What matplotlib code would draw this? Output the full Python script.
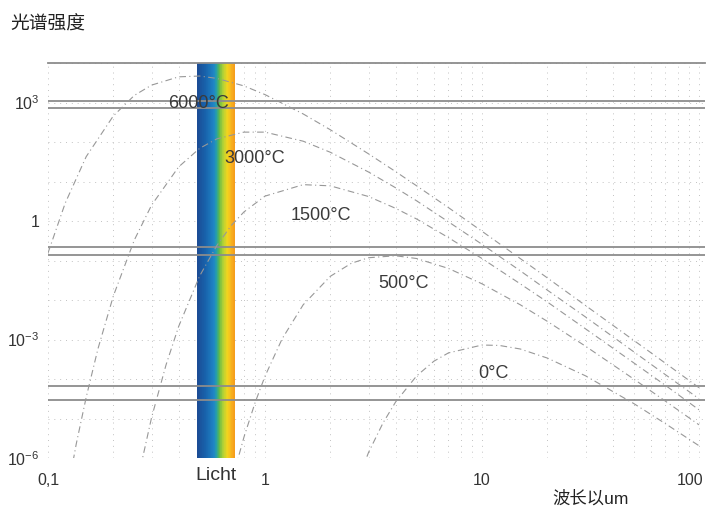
import numpy as np
import matplotlib
matplotlib.use('Agg')
import matplotlib.pyplot as plt
import matplotlib.transforms as mtransforms
from matplotlib.colors import LinearSegmentedColormap
from matplotlib.ticker import FixedLocator, NullFormatter, LogLocator

# ---------------- data ----------------
# wavelength in um, intensity as log10 values
w_6000 = [0.1, 0.12, 0.15, 0.2, 0.25, 0.3, 0.4, 0.5, 0.6, 0.8, 1, 1.5, 2, 3, 4, 5, 7, 10, 15, 20, 30, 50, 70, 100]
lg_6000 = [-0.81, 0.45, 1.63, 2.66, 3.18, 3.44, 3.65, 3.67, 3.61, 3.42, 3.20, 2.71, 2.31, 1.70, 1.25, 0.89, 0.34,
           -0.26, -0.95, -1.44, -2.14, -3.02, -3.60, -4.22]

w_3000 = [0.12, 0.135, 0.15, 0.17, 0.2, 0.25, 0.3, 0.4, 0.5, 0.6, 0.8, 1, 1.5, 2, 3, 4, 5, 7, 10, 15, 20, 30, 50, 70, 100]
lg_3000 = [-7.16, -5.64, -4.46, -3.23, -1.90, -0.48, 0.40, 1.37, 1.84, 2.08, 2.25, 2.25, 2.02, 1.74, 1.24, 0.84, 0.51,
           -0.02, -0.59, -1.26, -1.75, -2.43, -3.31, -3.89, -4.50]

w_1500 = [0.25, 0.3, 0.35, 0.4, 0.5, 0.6, 0.7, 0.8, 1, 1.5, 2, 3, 4, 5, 7, 10, 15, 20, 30, 50, 70, 100]
lg_1500 = [-6.94, -4.98, -3.64, -2.67, -1.39, -0.62, -0.11, 0.23, 0.63, 0.92, 0.89, 0.62, 0.32, 0.05, -0.42, -0.95,
           -1.59, -2.05, -2.73, -3.59, -4.16, -4.78]

w_500 = [0.7, 0.8, 0.9, 1, 1.2, 1.5, 2, 2.5, 3, 4, 5, 7, 10, 15, 20, 30, 50, 70, 100]
lg_500 = [-6.62, -5.47, -4.60, -3.93, -2.98, -2.12, -1.40, -1.07, -0.93, -0.88, -0.95, -1.20, -1.59, -2.12, -2.54,
          -3.17, -4.00, -4.56, -5.16]

w_0 = [2.5, 3, 3.5, 4, 5, 6, 7, 10, 12, 15, 20, 30, 50, 70, 100]
lg_0 = [-6.99, -5.86, -5.11, -4.58, -3.92, -3.55, -3.34, -3.14, -3.15, -3.24, -3.47, -3.92, -4.62, -5.13, -5.69]

curve_labels = ['6000°C', '3000°C', '1500°C', '500°C', '0°C']

# visible-light band (um)
band_lo, band_hi = 0.484, 0.73

# horizontal reference lines (log10)
ref_lines_lg = [3.05, 2.87, -0.663, -0.873, -4.165, -4.52]

x_ticks = [0.1, 1, 10, 100]
x_tick_labels = ['0,1', '1', '10', '100']
y_ticks = [1e-6, 1e-3, 1, 1e3]
y_tick_labels = [r'$\mathregular{10^{-6}}$', r'$\mathregular{10^{-3}}$', '1', r'$\mathregular{10^{3}}$']

title_text = '光谱强度'
xlabel_text = '波长以um'
band_text = 'Licht'

# ---------------- drawing ----------------
plt.rcParams['font.family'] = ['Liberation Sans', 'Noto Sans CJK SC', 'DejaVu Sans']
plt.rcParams['mathtext.fontset'] = 'custom'
plt.rcParams['mathtext.rm'] = 'Liberation Sans'

W, H = 707, 509
fig = plt.figure(figsize=(W / 100, H / 100), dpi=100)
left_px, right_px, top_px, bot_px = 48, 705, 63, 458
ax = fig.add_axes([left_px / W, 1 - bot_px / H, (right_px - left_px) / W, (bot_px - top_px) / H])
ax.set_xscale('log')
ax.set_yscale('log')
ax.set_xlim(0.1, 10 ** (-1 + (right_px - left_px) / 217.0))
ax.set_ylim(1e-6, 1e4)

# grid
ax.xaxis.set_minor_locator(LogLocator(base=10, subs=np.arange(2, 10)))
ax.xaxis.set_minor_formatter(NullFormatter())
ax.yaxis.set_minor_locator(FixedLocator([10.0 ** k for k in range(-6, 5)]))
ax.yaxis.set_minor_formatter(NullFormatter())
ax.grid(True, which='both', axis='both', linestyle=(0, (1, 5)), color='#c2c2c2', linewidth=0.7)
ax.set_axisbelow(True)

# visible band
cmap = LinearSegmentedColormap.from_list('vis', [
    (0.0, '#1b4a93'), (0.22, '#1862ab'), (0.45, '#1f86c6'), (0.52, '#2aa3a2'),
    (0.58, '#5db849'), (0.70, '#b9d334'), (0.80, '#f2d41d'), (0.90, '#f8b41f'), (1.0, '#f59a1b')])
edges = np.geomspace(band_lo, band_hi, 61)
for i in range(60):
    ax.axvspan(edges[i], edges[i + 1], color=cmap(i / 59), lw=0, zorder=2)

# reference horizontal lines
for v in ref_lines_lg:
    ax.axhline(10 ** v, color='#8c8c8c', lw=1.3, zorder=3)

# curves
curve_style = dict(color='#989898', lw=0.8, linestyle=(0, (6, 3, 1, 3)), zorder=4)
for wx, lg in [(w_6000, lg_6000), (w_3000, lg_3000), (w_1500, lg_1500), (w_500, lg_500), (w_0, lg_0)]:
    ax.plot(wx, 10 ** np.array(lg), **curve_style)

# curve labels
label_pos = [(0.494, 10 ** 2.97), (0.90, 10 ** 1.58), (1.80, 10 ** 0.14), (4.36, 10 ** -1.58), (11.35, 10 ** -3.86)]
for txt, (lx, ly) in zip(curve_labels, label_pos):
    ax.text(lx, ly, txt, ha='center', va='center', fontsize=13, color='#3a3a3a', zorder=5)

# spines
for s in ['left', 'right', 'bottom']:
    ax.spines[s].set_visible(False)
ax.spines['top'].set_color('#8c8c8c')
ax.spines['top'].set_linewidth(1.3)

# ticks
ax.set_xticks(x_ticks)
ax.set_xticklabels(x_tick_labels)
ax.set_yticks(y_ticks)
ax.set_yticklabels(y_tick_labels)
ax.tick_params(axis='both', which='both', length=0)
ax.tick_params(axis='x', pad=11, labelsize=11.5, labelcolor='#333333')
ax.tick_params(axis='y', pad=6, labelsize=11.5, labelcolor='#333333')
last = ax.get_xticklabels()[-1]
last.set_transform(last.get_transform() + mtransforms.ScaledTranslation(-9 / 100, 0, fig.dpi_scale_trans))

# band label
ax.text(np.sqrt(band_lo * band_hi), -0.045, band_text, transform=ax.get_xaxis_transform(),
        ha='center', va='center', fontsize=14, color='#333333')

# titles
fig.text(10 / W, 1 - 25 / H, title_text, ha='left', va='center', fontsize=13.5, color='#222222')
fig.text(591 / W, 1 - 498 / H, xlabel_text, ha='center', va='center', fontsize=12.5, color='#222222')

fig.savefig('out.png', dpi=100)
